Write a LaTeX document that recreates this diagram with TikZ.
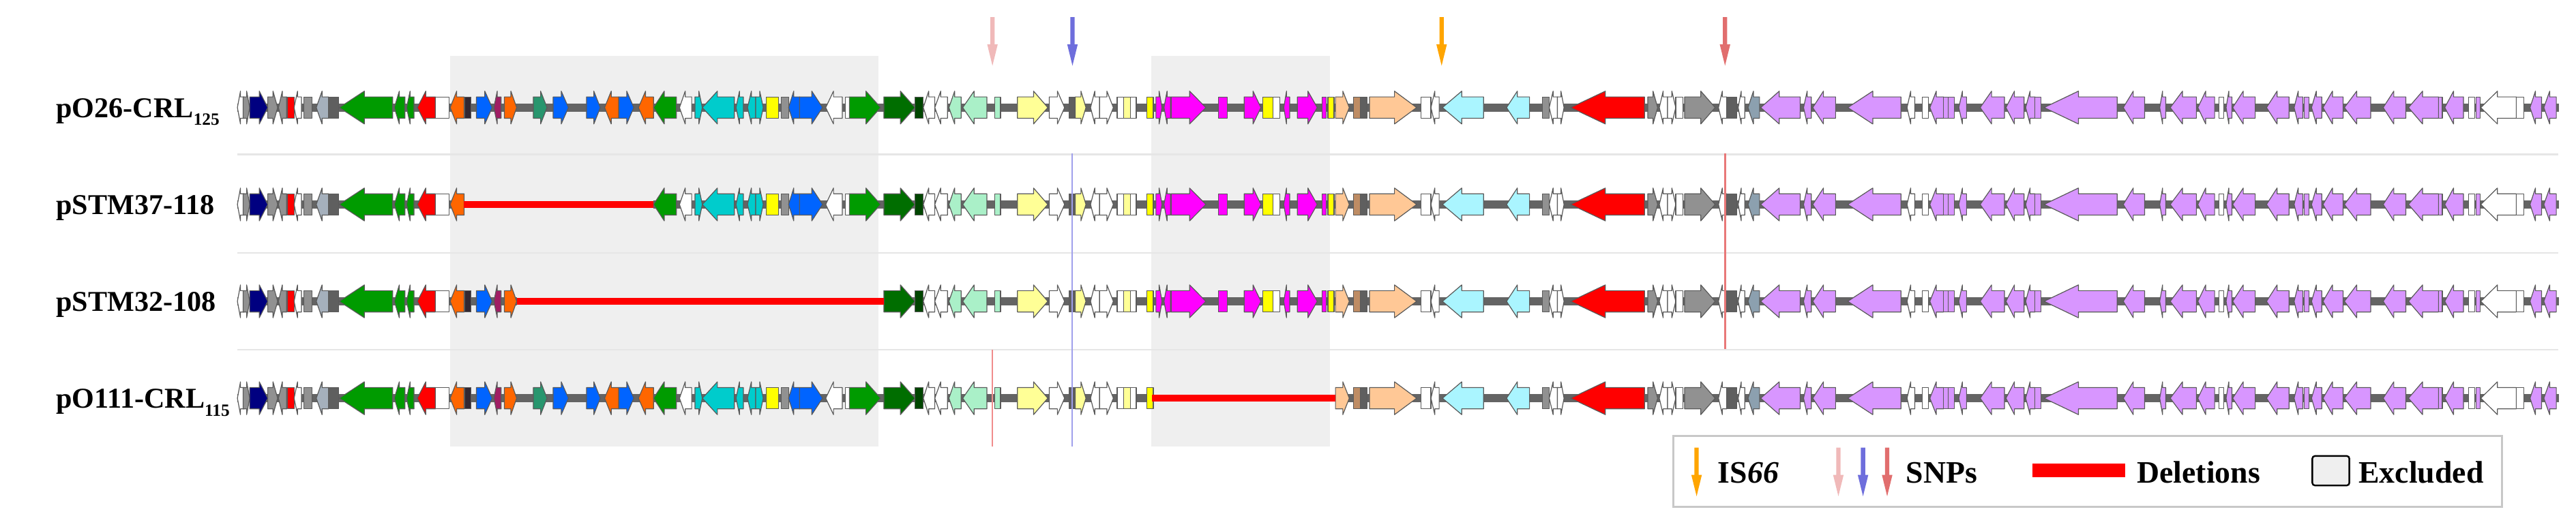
\documentclass[tikz,border=0pt]{standalone}
\usepackage{fontspec}
\setmainfont{Liberation Serif}
\definecolor{cNavy}{RGB}{0,0,128}
\definecolor{cRed}{RGB}{255,0,0}
\definecolor{cGray}{RGB}{145,145,145}
\definecolor{cDGray}{RGB}{95,95,95}
\definecolor{cDark}{RGB}{50,40,50}
\definecolor{cGB}{RGB}{165,176,188}
\definecolor{cGreen}{RGB}{0,155,0}
\definecolor{cDGreen}{RGB}{0,110,0}
\definecolor{cDDGreen}{RGB}{0,70,0}
\definecolor{cOrange}{RGB}{255,102,0}
\definecolor{cMaroon}{RGB}{160,30,100}
\definecolor{cBlue}{RGB}{0,100,255}
\definecolor{cSea}{RGB}{40,150,110}
\definecolor{cCyan}{RGB}{0,204,204}
\definecolor{cYellow}{RGB}{255,255,0}
\definecolor{cMint}{RGB}{170,240,200}
\definecolor{cPYellow}{RGB}{255,255,150}
\definecolor{cMagenta}{RGB}{255,0,255}
\definecolor{cPeach}{RGB}{255,200,150}
\definecolor{cTan}{RGB}{190,140,100}
\definecolor{cLCyan}{RGB}{170,245,255}
\definecolor{cLav}{RGB}{216,150,255}
\definecolor{cGBl}{RGB}{140,160,175}
\definecolor{cBB}{RGB}{100,100,100}
\definecolor{cExcl}{RGB}{239,239,239}
\definecolor{cSep}{RGB}{230,230,230}
\definecolor{cOut}{RGB}{90,90,90}
\definecolor{cSnpPink}{RGB}{240,185,185}
\definecolor{cSnpBlue}{RGB}{110,110,220}
\definecolor{cSnpRed}{RGB}{225,110,110}
\definecolor{cIS}{RGB}{255,165,0}
\definecolor{cVBlue}{RGB}{160,160,235}
\definecolor{cVPink}{RGB}{240,140,140}
\definecolor{cVRed}{RGB}{232,120,120}
\definecolor{cLegB}{RGB}{200,200,200}
\tikzset{
  gene/.style={draw=cOut, line width=0.5pt, line join=round},
  bb/.style={fill=cBB},
  del/.style={fill=cRed},
  excl/.style={fill=cExcl},
  sep/.style={draw=cSep, line width=1pt},
  lbl/.style={font=\fontsize{17.5}{17.5}\selectfont\bfseries, anchor=base west, inner sep=0pt},
  legtxt/.style={font=\fontsize{19}{19}\selectfont\bfseries, anchor=base west, inner sep=0pt},
}
\newcommand\drawgene[4]{%
  \pgfmathsetmacro\gL{#2-#1}%
  \pgfmathsetmacro\gH{0.47*\gL}%
  \if r#3%
    \filldraw[gene, fill=#4] (#1,\ry-6.5) -- ({#2-\gH},\ry-6.5) -- ({#2-\gH},\ry-10) -- (#2,\ry) -- ({#2-\gH},\ry+10) -- ({#2-\gH},\ry+6.5) -- (#1,\ry+6.5) -- cycle;%
  \else\if l#3%
    \filldraw[gene, fill=#4] (#2,\ry-6.5) -- ({#1+\gH},\ry-6.5) -- ({#1+\gH},\ry-10) -- (#1,\ry) -- ({#1+\gH},\ry+10) -- ({#1+\gH},\ry+6.5) -- (#2,\ry+6.5) -- cycle;%
  \else
    \filldraw[gene, fill=#4] (#1,\ry-6.5) rectangle (#2,\ry+6.5);%
  \fi\fi}
\newcommand\Gn[4]{%
  \pgfmathtruncatemacro\gkeep{((#1>=\dA-0.3)&&(#2<=\dB+0.3))?0:1}%
  \ifnum\gkeep=1 \drawgene{#1}{#2}{#3}{#4}\fi}
\newcommand\genelist{%
\Gn{144.5}{148.5}{l}{white}
\Gn{148}{152}{r}{cGray}
\Gn{152}{163}{r}{cNavy}
\Gn{163}{169}{r}{cGray}
\Gn{169.5}{174.5}{l}{cGray}
\Gn{175}{179}{b}{cRed}
\Gn{179}{183.5}{l}{white}
\Gn{185}{190}{b}{cGray}
\Gn{192.5}{200}{l}{cGB}
\Gn{200}{206}{b}{cDGray}
\Gn{206.5}{239}{l}{cGreen}
\Gn{240}{246.5}{l}{cGreen}
\Gn{247.5}{252}{l}{cGreen}
\Gn{254}{265}{l}{cRed}
\Gn{265}{273.5}{b}{white}
\Gn{274}{282.5}{l}{cOrange}
\Gn{282.8}{286.7}{b}{cDark}
\Gn{290}{299.6}{r}{cBlue}
\Gn{300.6}{305}{l}{cMaroon}
\Gn{307}{314.5}{r}{cOrange}
\Gn{324.6}{333}{r}{cSea}
\Gn{336.7}{346}{r}{cBlue}
\Gn{357}{365.4}{r}{cBlue}
\Gn{368}{376.6}{l}{cOrange}
\Gn{376.6}{385.8}{r}{cBlue}
\Gn{388.6}{397.8}{l}{cOrange}
\Gn{397.8}{411.7}{l}{cGreen}
\Gn{413.6}{421}{l}{white}
\Gn{423}{427.5}{r}{cCyan}
\Gn{427.5}{447}{l}{cCyan}
\Gn{448}{452.5}{l}{cCyan}
\Gn{455}{460}{l}{cCyan}
\Gn{460}{464.6}{r}{cCyan}
\Gn{466.4}{474}{b}{cYellow}
\Gn{475.7}{480}{b}{cGray}
\Gn{480}{486.7}{l}{cBlue}
\Gn{486.7}{500.7}{r}{cBlue}
\Gn{502.6}{512.7}{l}{white}
\Gn{514.6}{517}{b}{white}
\Gn{517}{536}{r}{cGreen}
\Gn{538}{557}{r}{cDGreen}
\Gn{557}{562}{b}{cDDGreen}
\Gn{562}{569}{l}{white}
\Gn{569}{576.7}{l}{white}
\Gn{577.6}{585}{l}{cMint}
\Gn{586}{600.7}{l}{cMint}
\Gn{605.4}{609}{b}{cMint}
\Gn{619.3}{637.8}{r}{cPYellow}
\Gn{638.7}{648}{r}{white}
\Gn{650.8}{654.5}{b}{cDGray}
\Gn{654.5}{661}{r}{cPYellow}
\Gn{663.8}{669.3}{l}{white}
\Gn{669.3}{677.7}{r}{white}
\Gn{680}{684}{b}{white}
\Gn{684}{688}{b}{cPYellow}
\Gn{688}{691.6}{b}{white}
\Gn{698}{702}{b}{cYellow}
\Gn{703.6}{707.3}{r}{cMagenta}
\Gn{708.5}{712.5}{l}{cMagenta}
\Gn{712.9}{734}{r}{cMagenta}
\Gn{741.6}{747}{b}{cMagenta}
\Gn{757.3}{767.5}{r}{cMagenta}
\Gn{768.5}{775}{b}{cYellow}
\Gn{775}{779}{b}{white}
\Gn{781.4}{785}{l}{cMagenta}
\Gn{789.7}{801.8}{r}{cMagenta}
\Gn{804.6}{807.3}{b}{cMagenta}
\Gn{808.3}{812}{b}{cYellow}
\Gn{812.9}{821.3}{r}{cPeach}
\Gn{824}{828}{b}{cTan}
\Gn{828}{832}{b}{cDGray}
\Gn{833.6}{862.3}{r}{cPeach}
\Gn{865}{871}{b}{white}
\Gn{871}{876}{l}{white}
\Gn{878}{903}{l}{cLCyan}
\Gn{917}{931}{l}{cLCyan}
\Gn{939}{943}{b}{cGray}
\Gn{943}{948}{l}{white}
\Gn{948}{952}{r}{white}
\Gn{956}{1001}{l}{cRed}
\Gn{1003}{1009}{r}{cGray}
\Gn{1010}{1015}{l}{white}
\Gn{1015}{1020}{r}{white}
\Gn{1020}{1024.5}{b}{white}
\Gn{1025.4}{1044}{r}{cGray}
\Gn{1046}{1051}{l}{white}
\Gn{1051}{1057}{b}{cDGray}
\Gn{1058}{1062}{l}{white}
\Gn{1064}{1071}{l}{cGBl}
\Gn{1071.7}{1095.8}{l}{cLav}
\Gn{1097.8}{1102.5}{l}{cLav}
\Gn{1103.4}{1117.3}{l}{cLav}
\Gn{1124.7}{1157.1}{l}{cLav}
\Gn{1160.8}{1165.5}{l}{white}
\Gn{1170}{1173.8}{b}{white}
\Gn{1174.7}{1183}{l}{cLav}
\Gn{1183}{1186}{b}{cLav}
\Gn{1186}{1189.6}{b}{cLav}
\Gn{1192.3}{1197}{l}{cLav}
\Gn{1205.3}{1220.1}{l}{cLav}
\Gn{1221}{1232}{l}{cLav}
\Gn{1233}{1238.7}{l}{cLav}
\Gn{1238.7}{1242.4}{b}{cLav}
\Gn{1244.2}{1288.7}{l}{cLav}
\Gn{1292.4}{1305.4}{l}{cLav}
\Gn{1314.6}{1318.3}{l}{cLav}
\Gn{1321}{1336.9}{l}{cLav}
\Gn{1337.8}{1348}{l}{cLav}
\Gn{1350.8}{1353.6}{b}{white}
\Gn{1355}{1358.5}{l}{cLav}
\Gn{1359}{1372.7}{l}{cLav}
\Gn{1379.6}{1393.3}{l}{cLav}
\Gn{1396.4}{1401.7}{l}{cLav}
\Gn{1402.5}{1405.6}{b}{cLav}
\Gn{1407}{1413.2}{l}{cLav}
\Gn{1414}{1426.2}{l}{cLav}
\Gn{1427}{1443}{l}{cLav}
\Gn{1450.6}{1464.4}{l}{cLav}
\Gn{1466}{1484.3}{l}{cLav}
\Gn{1484.3}{1486.6}{b}{cLav}
\Gn{1488.1}{1499.5}{l}{cLav}
\Gn{1502.6}{1506.4}{b}{white}
\Gn{1507.2}{1509.5}{b}{cLav}
\Gn{1510}{1531.6}{l}{white}
\Gn{1531.6}{1536.2}{b}{white}
\Gn{1540}{1547}{l}{cLav}
\Gn{1548.4}{1556}{l}{cLav}
}
\newcommand\plasrow[3]{%
  \def\ry{#1}\def\dA{#2}\def\dB{#3}%
  \ifdim #2pt<0pt
    \fill[bb] (144.5,#1-2.4) rectangle (1557.5,#1+2.4);
  \else
    \fill[bb] (144.5,#1-2.4) rectangle (#2,#1+2.4);
    \fill[bb] (#3,#1-2.4) rectangle (1557.5,#1+2.4);
  \fi
  \genelist
  \ifdim #2pt>0pt \fill[del] (#2,#1-2.2) rectangle (#3,#1+2.2);\fi
}
\newcommand\snparrow[3]{%
  \fill[#3] (#1-1.3,#2) -- (#1+1.3,#2) -- (#1+1.3,#2+16.6) -- (#1+3.2,#2+16.6) -- (#1,#2+29.6) -- (#1-3.2,#2+16.6) -- (#1-1.3,#2+16.6) -- cycle;}
\begin{document}
\begin{tikzpicture}[x=1pt,y=-1pt]
\useasboundingbox[fill=white] (0,0) rectangle (1568,322);
% excluded regions
\fill[excl] (274,34) rectangle (534.5,272);
\fill[excl] (700.8,34) rectangle (809.5,272);
% separators
\draw[sep] (144.5,94) -- (1557,94);
\draw[sep] (144.5,154) -- (1557,154);
\draw[sep] (144.5,213) -- (1557,213);
% rows
\plasrow{65.5}{-10}{-10}
\plasrow{124.5}{282.5}{397.8}
\plasrow{183.5}{314.5}{538}
\plasrow{242.5}{701}{812.9}
% labels
\node[lbl] (l1) at (34,71.5) {pO26-CRL\raisebox{-0.6ex}{\fontsize{10.5}{10.5}\selectfont 125}};
\node[lbl] (l2) at (34,130.5) {pSTM37-118};
\node[lbl] (l3) at (34,189.5) {pSTM32-108};
\node[lbl] (l4) at (34,248.5) {pO111-CRL\raisebox{-0.6ex}{\fontsize{10.5}{10.5}\selectfont 115}};
% SNP lines
\draw[cVBlue, line width=0.9pt] (652.7,93.4) -- (652.7,272);
\draw[cVPink, line width=0.9pt] (604.1,213) -- (604.1,272);
\draw[cVRed, line width=0.9pt] (1050.1,93.4) -- (1050.1,212.4);
% top arrows
\snparrow{604.1}{10.4}{cSnpPink}
\snparrow{652.8}{10.4}{cSnpBlue}
\snparrow{877.5}{10.4}{cIS}
\snparrow{1050}{10.4}{cSnpRed}
% legend
\draw[draw=cLegB, line width=1.2pt, fill=white] (1018.7,265.5) rectangle (1523,308.5);
\snparrow{1032.7}{272.6}{cIS}
\snparrow{1119}{272.6}{cSnpPink}
\snparrow{1134}{272.6}{cSnpBlue}
\snparrow{1148.7}{272.6}{cSnpRed}
\node[legtxt] (t1) at (1045.5,294) {IS\textit{66}};
\node[legtxt] (t2) at (1160,294) {SNPs};
\fill[del] (1237,282.3) rectangle (1293.4,290.5);
\node[legtxt] (t3) at (1300.6,294) {Deletions};
\draw[fill=cExcl, line width=1pt, rounded corners=1.5pt] (1407.5,277.7) rectangle (1430,295.6);
\node[legtxt] (t4) at (1435.5,294) {Excluded};
\end{tikzpicture}
\end{document}
